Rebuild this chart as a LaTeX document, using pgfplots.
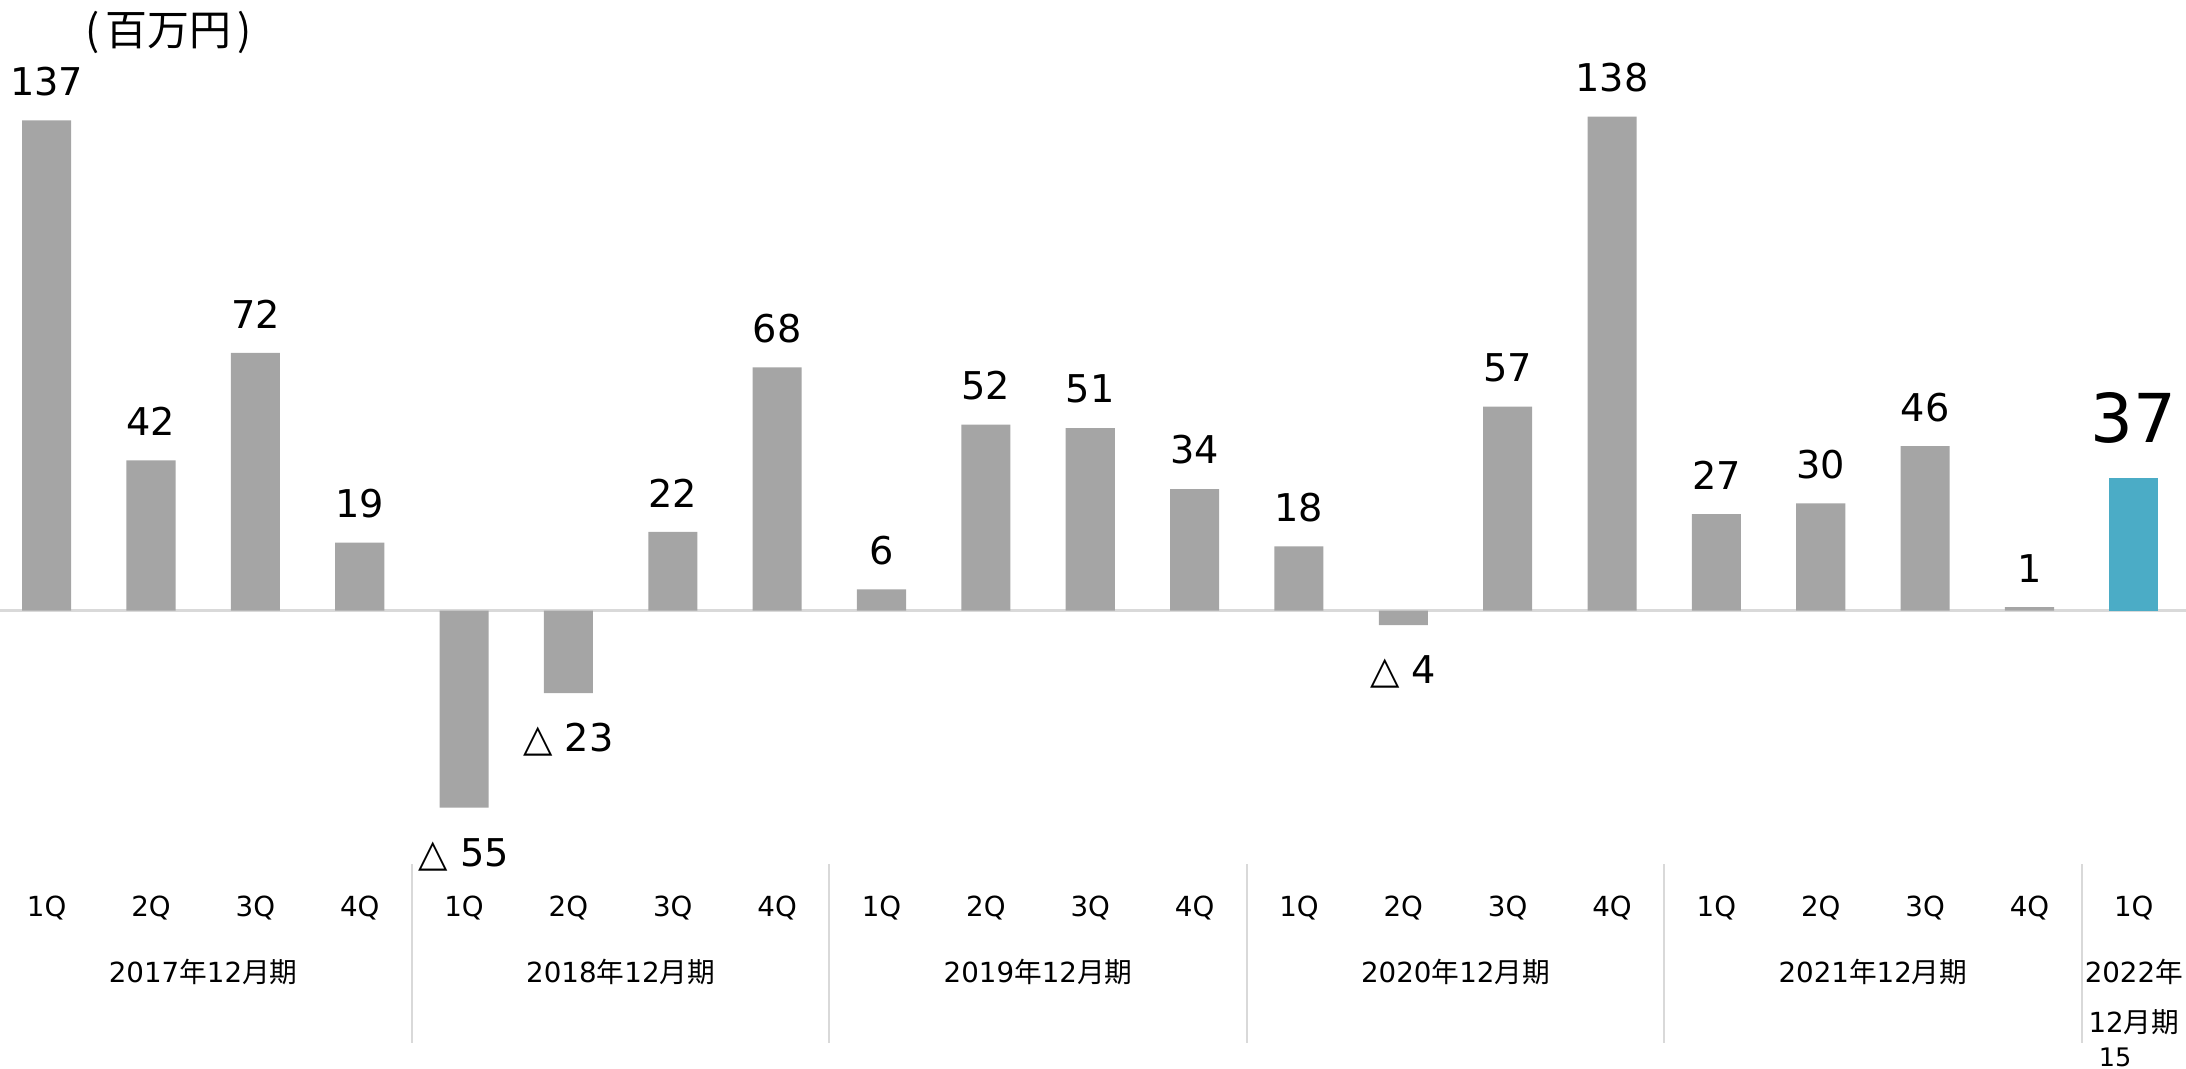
\documentclass[border=0pt]{standalone}
\usepackage{fontspec}
\setmainfont{DejaVu Sans}
\newfontfamily\jp{Noto Sans CJK JP}
\usepackage{pgfplots}
\pgfplotsset{compat=1.18}
\definecolor{bargray}{HTML}{A5A5A5}
\definecolor{barblue}{HTML}{4BACC6}
\definecolor{linegray}{HTML}{D9D9D9}
\tikzset{
  plab/.style={font=\fontsize{10.5}{12}\selectfont, yshift=10.7pt},
  nlab/.style={font=\fontsize{10.5}{12}\selectfont, yshift=-12.9pt},
  tk/.style={font=\fontsize{7.6}{9}\selectfont},
}
\begin{document}
\begin{tikzpicture}
\begin{axis}[
  width=600pt, height=293.4pt, scale only axis,
  xmin=-0.447, xmax=20.5, ymin=-128, ymax=170.6,
  axis lines=none, clip=false,
  ybar, bar width=0.47,
]
\draw[linegray, line width=0.7pt] (axis cs:-0.447,0) -- (axis cs:20.5,0);
\addplot[ybar, bar shift=0pt, fill=bargray, draw=none] coordinates {
(0,137) (1,42) (2,72) (3,19) (4,-55) (5,-23) (6,22) (7,68) (8,6) (9,52)
(10,51) (11,34) (12,18) (13,-4) (14,57) (15,138) (16,27) (17,30) (18,46) (19,1)};
\addplot[ybar, bar shift=0pt, fill=barblue, draw=none] coordinates {(20,37)};
% data labels
\node[plab] at (axis cs:0,137) {137};
\node[plab] at (axis cs:1,42) {42};
\node[plab] at (axis cs:2,72) {72};
\node[plab] at (axis cs:3,19) {19};
\node[nlab] at (axis cs:4,-55) {△ 55};
\node[nlab] at (axis cs:5,-23) {△ 23};
\node[plab] at (axis cs:6,22) {22};
\node[plab] at (axis cs:7,68) {68};
\node[plab] at (axis cs:8,6) {6};
\node[plab] at (axis cs:9,52) {52};
\node[plab] at (axis cs:10,51) {51};
\node[plab] at (axis cs:11,34) {34};
\node[plab] at (axis cs:12,18) {18};
\node[nlab] at (axis cs:13,-4) {△ 4};
\node[plab] at (axis cs:14,57) {57};
\node[plab] at (axis cs:15,138) {138};
\node[plab] at (axis cs:16,27) {27};
\node[plab] at (axis cs:17,30) {30};
\node[plab] at (axis cs:18,46) {46};
\node[plab] at (axis cs:19,1) {1};
\node[font=\fontsize{18.5}{20}\selectfont, yshift=16.5pt] at (axis cs:20,37) {37};
% unit
\node[font=\jp\fontsize{11.5}{13}\selectfont] at (axis cs:1.169,161.6) {(\kern1.6pt 百万円\kern1.6pt)};
% quarter labels
\node[tk] at (axis cs:0,-83) {1Q};
\node[tk] at (axis cs:1,-83) {2Q};
\node[tk] at (axis cs:2,-83) {3Q};
\node[tk] at (axis cs:3,-83) {4Q};
\node[tk] at (axis cs:4,-83) {1Q};
\node[tk] at (axis cs:5,-83) {2Q};
\node[tk] at (axis cs:6,-83) {3Q};
\node[tk] at (axis cs:7,-83) {4Q};
\node[tk] at (axis cs:8,-83) {1Q};
\node[tk] at (axis cs:9,-83) {2Q};
\node[tk] at (axis cs:10,-83) {3Q};
\node[tk] at (axis cs:11,-83) {4Q};
\node[tk] at (axis cs:12,-83) {1Q};
\node[tk] at (axis cs:13,-83) {2Q};
\node[tk] at (axis cs:14,-83) {3Q};
\node[tk] at (axis cs:15,-83) {4Q};
\node[tk] at (axis cs:16,-83) {1Q};
\node[tk] at (axis cs:17,-83) {2Q};
\node[tk] at (axis cs:18,-83) {3Q};
\node[tk] at (axis cs:19,-83) {4Q};
\node[tk] at (axis cs:20,-83) {1Q};
% year labels
\node[tk] at (axis cs:1.5,-101) {2017{\jp 年}12{\jp 月期}};
\node[tk] at (axis cs:5.5,-101) {2018{\jp 年}12{\jp 月期}};
\node[tk] at (axis cs:9.5,-101) {2019{\jp 年}12{\jp 月期}};
\node[tk] at (axis cs:13.5,-101) {2020{\jp 年}12{\jp 月期}};
\node[tk] at (axis cs:17.5,-101) {2021{\jp 年}12{\jp 月期}};
\node[tk] at (axis cs:20,-101) {2022{\jp 年}};
\node[tk] at (axis cs:20,-114.8) {12{\jp 月期}};
% separators
\draw[linegray, line width=0.5pt] (axis cs:3.5,-70.8) -- (axis cs:3.5,-120.8);
\draw[linegray, line width=0.5pt] (axis cs:7.5,-70.8) -- (axis cs:7.5,-120.8);
\draw[linegray, line width=0.5pt] (axis cs:11.5,-70.8) -- (axis cs:11.5,-120.8);
\draw[linegray, line width=0.5pt] (axis cs:15.5,-70.8) -- (axis cs:15.5,-120.8);
\draw[linegray, line width=0.5pt] (axis cs:19.5,-70.8) -- (axis cs:19.5,-120.8);
% page number
\node[font=\fontsize{7}{8}\selectfont] at (axis cs:19.82,-124.7) {15};
\end{axis}
\pgfresetboundingbox
\path[use as bounding box] (current axis.south west) rectangle (current axis.north east);
\end{tikzpicture}
\end{document}
